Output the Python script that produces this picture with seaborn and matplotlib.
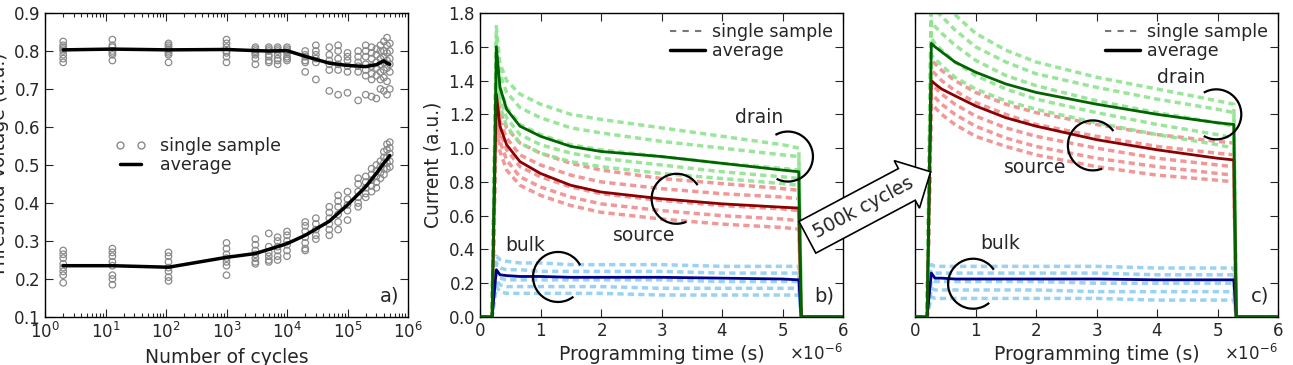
import numpy as np
import pandas as pd
import seaborn as sns
import matplotlib.pyplot as plt
import matplotlib.transforms as mtransforms
from matplotlib.patches import Arc
from matplotlib.lines import Line2D
from matplotlib.ticker import LogLocator, NullFormatter

# ---- panel a: threshold voltage vs number of cycles ----
cycles = [2, 13, 110, 1000, 3000, 5000, 7000, 10000, 20000, 30000, 50000,
          70000, 100000, 150000, 200000, 250000, 300000, 350000, 400000,
          450000, 500000]
vth_high = [
    [0.825, 0.815, 0.81, 0.805, 0.80, 0.79, 0.78, 0.77],
    [0.83, 0.815, 0.81, 0.80, 0.795, 0.79, 0.775],
    [0.82, 0.815, 0.81, 0.805, 0.80, 0.795, 0.79, 0.77],
    [0.83, 0.82, 0.81, 0.80, 0.795, 0.785, 0.77],
    [0.81, 0.805, 0.80, 0.795, 0.79, 0.78, 0.765],
    [0.81, 0.805, 0.80, 0.79, 0.785, 0.775, 0.77],
    [0.81, 0.805, 0.80, 0.79, 0.78, 0.775, 0.765],
    [0.81, 0.805, 0.80, 0.795, 0.785, 0.78, 0.775],
    [0.80, 0.79, 0.785, 0.775, 0.77, 0.745],
    [0.815, 0.80, 0.79, 0.78, 0.77, 0.725],
    [0.81, 0.79, 0.775, 0.765, 0.75, 0.695],
    [0.815, 0.80, 0.78, 0.765, 0.75, 0.685],
    [0.795, 0.785, 0.775, 0.76, 0.745, 0.69],
    [0.80, 0.785, 0.77, 0.76, 0.745, 0.67],
    [0.815, 0.80, 0.785, 0.765, 0.75, 0.735, 0.685],
    [0.81, 0.795, 0.78, 0.76, 0.74, 0.725, 0.68],
    [0.805, 0.79, 0.77, 0.755, 0.735, 0.675],
    [0.815, 0.80, 0.78, 0.765, 0.745, 0.725, 0.70],
    [0.825, 0.80, 0.785, 0.77, 0.75, 0.73, 0.695],
    [0.835, 0.815, 0.795, 0.775, 0.755, 0.72, 0.685],
    [0.82, 0.80, 0.78, 0.765, 0.745, 0.70],
]
vth_low = [
    [0.275, 0.265, 0.255, 0.24, 0.23, 0.22, 0.21, 0.19],
    [0.28, 0.27, 0.26, 0.245, 0.235, 0.21, 0.20, 0.185],
    [0.27, 0.26, 0.245, 0.23, 0.22, 0.205, 0.195],
    [0.295, 0.28, 0.265, 0.255, 0.245, 0.235, 0.21],
    [0.305, 0.29, 0.275, 0.265, 0.255, 0.245, 0.24],
    [0.32, 0.285, 0.27, 0.26, 0.25, 0.245],
    [0.31, 0.30, 0.285, 0.275, 0.26, 0.25],
    [0.325, 0.315, 0.30, 0.29, 0.275, 0.26],
    [0.35, 0.34, 0.325, 0.31, 0.295, 0.28, 0.275],
    [0.36, 0.345, 0.33, 0.315, 0.305],
    [0.39, 0.375, 0.36, 0.345, 0.33, 0.315],
    [0.42, 0.405, 0.39, 0.37, 0.35, 0.33],
    [0.43, 0.41, 0.395, 0.38, 0.355],
    [0.465, 0.45, 0.43, 0.415, 0.40, 0.39],
    [0.47, 0.455, 0.44, 0.425, 0.415],
    [0.49, 0.475, 0.46, 0.445, 0.43],
    [0.50, 0.485, 0.47, 0.455, 0.44],
    [0.51, 0.495, 0.48, 0.465],
    [0.535, 0.52, 0.505, 0.49, 0.475],
    [0.555, 0.54, 0.52, 0.505, 0.49],
    [0.56, 0.545, 0.53, 0.51, 0.495],
]
avg_cycles = [2, 13, 110, 1000, 3000, 5000, 10000, 20000, 50000, 100000,
              200000, 300000, 400000, 450000, 500000]
vth_high_avg = [0.803, 0.805, 0.803, 0.804, 0.801, 0.800, 0.801, 0.786, 0.768,
                0.762, 0.759, 0.764, 0.774, 0.768, 0.765]
vth_low_avg = [0.235, 0.235, 0.231, 0.257, 0.267, 0.278, 0.293, 0.315, 0.352,
               0.395, 0.443, 0.478, 0.505, 0.515, 0.525]

# ---- panels b/c: current transients (time in microseconds) ----
t_us = [0, 0.2, 0.27, 0.33, 0.44, 0.66, 1.0, 1.5, 2.0, 3.0, 4.0, 5.0, 5.27, 5.31, 6.0]

drain_b = [
    [0, 0, 1.72, 1.50, 1.40, 1.32, 1.26, 1.20, 1.17, 1.12, 1.07, 1.02, 1.00, 0, 0],
    [0, 0, 1.66, 1.44, 1.33, 1.24, 1.18, 1.12, 1.09, 1.04, 1.00, 0.96, 0.95, 0, 0],
    [0, 0, 1.60, 1.36, 1.24, 1.14, 1.08, 1.02, 0.99, 0.95, 0.91, 0.88, 0.87, 0, 0],
    [0, 0, 1.55, 1.30, 1.18, 1.08, 1.02, 0.97, 0.94, 0.90, 0.86, 0.83, 0.82, 0, 0],
    [0, 0, 1.50, 1.25, 1.13, 1.03, 0.97, 0.92, 0.89, 0.85, 0.82, 0.79, 0.78, 0, 0],
]
source_b = [
    [0, 0, 1.40, 1.22, 1.12, 1.03, 0.97, 0.91, 0.87, 0.82, 0.79, 0.76, 0.75, 0, 0],
    [0, 0, 1.35, 1.16, 1.06, 0.96, 0.90, 0.84, 0.80, 0.76, 0.73, 0.71, 0.70, 0, 0],
    [0, 0, 1.30, 1.10, 0.99, 0.89, 0.83, 0.77, 0.73, 0.69, 0.66, 0.64, 0.63, 0, 0],
    [0, 0, 1.25, 1.04, 0.93, 0.83, 0.77, 0.71, 0.67, 0.63, 0.60, 0.58, 0.57, 0, 0],
    [0, 0, 1.20, 0.98, 0.87, 0.78, 0.72, 0.66, 0.62, 0.58, 0.55, 0.53, 0.52, 0, 0],
]
bulk_b = [
    [0, 0, 0.36, 0.34, 0.33, 0.32, 0.32, 0.31, 0.31, 0.31, 0.30, 0.30, 0.30, 0, 0],
    [0, 0, 0.32, 0.29, 0.28, 0.28, 0.27, 0.27, 0.27, 0.27, 0.26, 0.26, 0.26, 0, 0],
    [0, 0, 0.26, 0.23, 0.22, 0.22, 0.22, 0.22, 0.22, 0.22, 0.21, 0.21, 0.21, 0, 0],
    [0, 0, 0.22, 0.19, 0.18, 0.18, 0.18, 0.18, 0.18, 0.17, 0.17, 0.17, 0.17, 0, 0],
    [0, 0, 0.18, 0.15, 0.14, 0.14, 0.14, 0.14, 0.14, 0.13, 0.13, 0.13, 0.13, 0, 0],
]
drain_b_avg = [0, 0, 1.60, 1.36, 1.23, 1.13, 1.07, 1.01, 0.98, 0.95, 0.91, 0.87, 0.86, 0, 0]
source_b_avg = [0, 0, 1.32, 1.13, 1.02, 0.92, 0.85, 0.78, 0.74, 0.70, 0.67, 0.65, 0.645, 0, 0]
bulk_b_avg = [0, 0, 0.28, 0.25, 0.245, 0.24, 0.24, 0.235, 0.235, 0.235, 0.23, 0.225, 0.22, 0, 0]

drain_c = [
    [0, 0, 1.95, 1.92, 1.88, 1.79, 1.68, 1.58, 1.51, 1.42, 1.35, 1.28, 1.26, 0, 0],
    [0, 0, 1.85, 1.82, 1.78, 1.70, 1.60, 1.51, 1.44, 1.36, 1.29, 1.23, 1.21, 0, 0],
    [0, 0, 1.75, 1.72, 1.68, 1.61, 1.52, 1.43, 1.37, 1.28, 1.21, 1.15, 1.13, 0, 0],
    [0, 0, 1.65, 1.62, 1.58, 1.51, 1.43, 1.35, 1.29, 1.21, 1.14, 1.08, 1.06, 0, 0],
    [0, 0, 1.55, 1.53, 1.49, 1.42, 1.35, 1.28, 1.23, 1.15, 1.08, 1.02, 1.00, 0, 0],
]
source_c = [
    [0, 0, 1.52, 1.50, 1.46, 1.40, 1.33, 1.26, 1.21, 1.14, 1.08, 1.04, 1.03, 0, 0],
    [0, 0, 1.46, 1.44, 1.40, 1.34, 1.27, 1.20, 1.14, 1.07, 1.01, 0.97, 0.96, 0, 0],
    [0, 0, 1.38, 1.36, 1.32, 1.26, 1.19, 1.12, 1.07, 1.00, 0.94, 0.90, 0.89, 0, 0],
    [0, 0, 1.32, 1.30, 1.26, 1.20, 1.13, 1.06, 1.01, 0.94, 0.89, 0.85, 0.84, 0, 0],
    [0, 0, 1.26, 1.24, 1.20, 1.14, 1.07, 1.01, 0.96, 0.89, 0.84, 0.81, 0.80, 0, 0],
]
bulk_c = [
    [0, 0, 0.31, 0.30, 0.30, 0.30, 0.30, 0.30, 0.30, 0.30, 0.29, 0.29, 0.29, 0, 0],
    [0, 0, 0.27, 0.26, 0.26, 0.26, 0.26, 0.26, 0.26, 0.26, 0.25, 0.25, 0.25, 0, 0],
    [0, 0, 0.22, 0.21, 0.21, 0.21, 0.21, 0.21, 0.21, 0.20, 0.20, 0.20, 0.20, 0, 0],
    [0, 0, 0.17, 0.16, 0.16, 0.16, 0.16, 0.16, 0.16, 0.15, 0.15, 0.15, 0.15, 0, 0],
    [0, 0, 0.12, 0.11, 0.11, 0.11, 0.11, 0.11, 0.11, 0.11, 0.10, 0.10, 0.10, 0, 0],
]
drain_c_avg = [0, 0, 1.62, 1.60, 1.57, 1.51, 1.45, 1.38, 1.33, 1.26, 1.20, 1.15, 1.14, 0, 0]
source_c_avg = [0, 0, 1.40, 1.38, 1.35, 1.31, 1.25, 1.18, 1.13, 1.05, 0.99, 0.94, 0.93, 0, 0]
bulk_c_avg = [0, 0, 0.26, 0.23, 0.23, 0.225, 0.225, 0.225, 0.225, 0.225, 0.22, 0.22, 0.22, 0, 0]

# annotation labels: (text, t_us, y) and arcs: (t_us, y, theta1, theta2)
labels_b = [('drain', 4.62, 1.18), ('source', 2.72, 0.485), ('bulk', 0.74, 0.425)]
arcs_b = [(5.09, 0.95, -117, 120), (3.25, 0.70, 33, 293), (1.29, 0.237, 28, 308)]
labels_c = [('drain', 4.40, 1.42), ('source', 1.98, 0.888), ('bulk', 1.40, 0.434)]
arcs_c = [(4.98, 1.20, -120, 120), (2.94, 1.016, 35, 292), (0.96, 0.197, 34, 310)]

sns.set_style('ticks')
plt.rcParams.update({
    'font.family': ['DejaVu Sans'],
    'font.size': 12,
    'xtick.direction': 'in', 'ytick.direction': 'in',
    'xtick.top': True, 'ytick.right': True,
    'xtick.major.size': 6, 'ytick.major.size': 6,
    'xtick.minor.size': 3, 'ytick.minor.size': 3,
    'xtick.minor.width': 0.8,
    'xtick.labelsize': 12, 'ytick.labelsize': 12,
    'axes.edgecolor': 'black', 'axes.linewidth': 1.0,
    'axes.formatter.use_mathtext': True,
})

fig = plt.figure(figsize=(12.93, 3.65), dpi=100)
ax_a = fig.add_axes([45 / 1293, 48 / 365, 363 / 1293, 304 / 365])
ax_b = fig.add_axes([480 / 1293, 48 / 365, 363 / 1293, 304 / 365])
ax_c = fig.add_axes([915 / 1293, 48 / 365, 363 / 1293, 304 / 365])

# panel a
xs, ys = [], []
for c, hi, lo in zip(cycles, vth_high, vth_low):
    for v in hi + lo:
        xs.append(c)
        ys.append(v)
pts = pd.DataFrame({'cycles': xs, 'vth': ys})
sns.scatterplot(data=pts, x='cycles', y='vth', ax=ax_a, marker='o', s=22,
                facecolor='none', edgecolor='#8a8a8a', linewidth=0.9, zorder=2)
sns.lineplot(x=avg_cycles, y=vth_high_avg, ax=ax_a, color='black', lw=2.5, zorder=3)
sns.lineplot(x=avg_cycles, y=vth_low_avg, ax=ax_a, color='black', lw=2.5, zorder=3)
ax_a.set_xscale('log')
ax_a.set_xlim(1, 1e6)
ax_a.set_ylim(0.1, 0.9)
ax_a.xaxis.set_minor_locator(LogLocator(base=10, subs=np.arange(2, 10), numticks=20))
ax_a.xaxis.set_minor_formatter(NullFormatter())
ax_a.tick_params(axis='x', which='minor', top=True, bottom=True, direction='in', length=3)
ax_a.set_yticks(np.arange(0.1, 0.91, 0.1))
ax_a.set_xlabel('Number of cycles', fontsize=13.5)
ax_a.set_ylabel('Threshold Voltage (a.u.)', fontsize=13.5)
ax_a.yaxis.set_label_coords(-0.1, 0.5)
handles_a = [Line2D([], [], ls='none', marker='o', mfc='none', mec='#8a8a8a', ms=5),
             Line2D([], [], color='black', lw=2.5)]
ax_a.legend(handles_a, ['single sample', 'average'], loc='center left',
            bbox_to_anchor=(0.15, 0.53), frameon=False, numpoints=2,
            handlelength=1.8, handletextpad=0.8, labelspacing=0.05, fontsize=12.5)
ax_a.text(0.975, 0.07, 'a)', transform=ax_a.transAxes, ha='right', va='center', fontsize=14)

light = {'drain': '#8ee38e', 'source': '#f08c8c', 'bulk': '#8fcdf2'}
dark = {'drain': '#006400', 'source': '#8b0000', 'bulk': '#00008b'}
t_s = np.array(t_us) * 1e-6


def current_panel(ax, drain, source, bulk, avgs, labels, arcs, tag):
    for name, samples in (('bulk', bulk), ('source', source), ('drain', drain)):
        for v in samples:
            sns.lineplot(x=t_s, y=v, ax=ax, color=light[name], lw=2.5,
                         linestyle=(0, (1.8, 1.2)), alpha=0.9, zorder=2)
    for name, v in zip(('bulk', 'source', 'drain'), avgs):
        sns.lineplot(x=t_s, y=v, ax=ax, color=dark[name], lw=2.0, zorder=3)
    ax.set_xlim(0, 6e-6)
    ax.set_ylim(0, 1.8)
    ax.set_yticks(np.arange(0, 1.81, 0.2))
    ax.set_xticks(np.arange(0, 6.1, 1) * 1e-6)
    ax.set_xlabel('Programming time (s)', fontsize=13.5)
    for txt, tx, ty in labels:
        ax.text(tx * 1e-6, ty, txt, ha='center', va='center', fontsize=13.5, zorder=5)
    for cx, cy, th1, th2 in arcs:
        tr = fig.dpi_scale_trans + mtransforms.ScaledTranslation(cx * 1e-6, cy, ax.transData)
        ax.add_patch(Arc((0, 0), 0.5, 0.5, theta1=th1, theta2=th2, transform=tr,
                         color='black', lw=1.6, zorder=5))
    handles = [Line2D([], [], color='#777777', ls=(0, (3, 3)), lw=1.5),
               Line2D([], [], color='black', lw=2.5)]
    ax.legend(handles, ['single sample', 'average'], loc='upper right',
              frameon=False, handlelength=2.0, handletextpad=0.4,
              labelspacing=0.05, borderaxespad=0.2, fontsize=12.5)
    ax.text(0.975, 0.07, tag, transform=ax.transAxes, ha='right', va='center', fontsize=14)


current_panel(ax_b, drain_b, source_b, bulk_b, (bulk_b_avg, source_b_avg, drain_b_avg),
              labels_b, arcs_b, 'b)')
ax_b.set_ylabel('Current (a.u.)', fontsize=13.5)
current_panel(ax_c, drain_c, source_c, bulk_c, (bulk_c_avg, source_c_avg, drain_c_avg),
              labels_c, arcs_c, 'c)')
ax_c.set_yticklabels([])

# big arrow between panels b and c
fig.text(0.668, 0.432, '500k cycles', rotation=28, ha='center', va='center',
         fontsize=13.5, zorder=10,
         bbox=dict(boxstyle='rarrow,pad=0.45', fc='white', ec='black', lw=1.2))

fig.savefig('out.png', dpi=100)
